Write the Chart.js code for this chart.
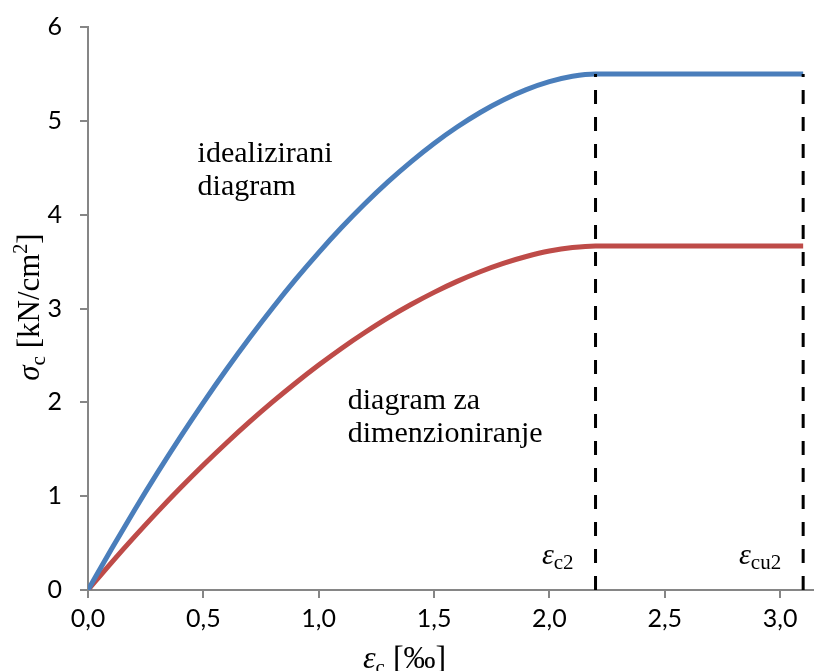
<!DOCTYPE html>
<html>
<head>
<meta charset="utf-8">
<script src="https://cdn.jsdelivr.net/npm/chart.js@4/dist/chart.umd.min.js"></script>
<style>
  html, body { margin: 0; padding: 0; background: #ffffff; }
  #wrap { width: 814px; height: 671px; position: relative; }
</style>
</head>
<body>
<div id="wrap"><canvas id="c" width="814" height="671"></canvas></div>
<script>
// Strain εc [‰]
const strain = [0.0, 0.1, 0.2, 0.3, 0.4, 0.5, 0.6, 0.7, 0.8, 0.9, 1.0, 1.1,
                1.2, 1.3, 1.4, 1.5, 1.6, 1.7, 1.8, 1.9, 2.0, 2.1, 2.2, 3.1];
// Stress σc [kN/cm²], idealized diagram
const sigmaIdealized = [0.000, 0.430, 0.845, 1.245, 1.629, 1.997, 2.350, 2.686,
                        3.006, 3.310, 3.596, 3.865, 4.116, 4.349, 4.563, 4.759,
                        4.934, 5.089, 5.222, 5.332, 5.417, 5.475, 5.500, 5.500];
// Stress σc [kN/cm²], design diagram
const sigmaDesign = [0.000, 0.287, 0.563, 0.830, 1.086, 1.332, 1.567, 1.791,
                     2.004, 2.206, 2.397, 2.577, 2.744, 2.900, 3.042, 3.172,
                     3.289, 3.392, 3.481, 3.554, 3.612, 3.650, 3.667, 3.667];
// Strain limits εc2 and εcu2 [‰]
const strainLimits = [2.2, 3.1];
const limitNames = ["c2", "cu2"];
// Axis ticks
const xTicks = [0.0, 0.5, 1.0, 1.5, 2.0, 2.5, 3.0];
const yTicks = [0, 1, 2, 3, 4, 5, 6];

const toPoints = (xs, ys) => xs.map((x, i) => ({ x: x, y: ys[i] }));
const peak = sigmaIdealized[sigmaIdealized.length - 1];

const limitSets = strainLimits.map(v => ({
  data: [{ x: v, y: 0 }, { x: v, y: peak }],
  borderColor: '#000000',
  borderWidth: 3,
  borderDash: [14, 13],
  pointRadius: 0,
  showLine: true,
  order: 0
}));

const serif = '"Liberation Serif", "DejaVu Serif", serif';

// Text pieces with sub/superscripts drawn along the baseline
function drawRich(ctx, parts, x, y) {
  let cx = x;
  parts.forEach(p => {
    ctx.font = p.font;
    ctx.fillText(p.t, cx, y + (p.shift || 0));
    cx += ctx.measureText(p.t).width;
  });
  return cx - x;
}
function richWidth(ctx, parts) {
  let w = 0;
  parts.forEach(p => { ctx.font = p.font; w += ctx.measureText(p.t).width; });
  return w;
}

const labelsPlugin = {
  id: 'labels',
  afterDraw(chart) {
    const ctx = chart.ctx;
    const xs = chart.scales.x, ys = chart.scales.y;
    ctx.save();
    ctx.fillStyle = '#000000';
    ctx.textBaseline = 'alphabetic';
    ctx.textAlign = 'left';

    // curve captions
    ctx.font = '30px ' + serif;
    let px = xs.getPixelForValue(0.475), py = ys.getPixelForValue(4.56);
    ctx.fillText('idealizirani', px, py);
    ctx.fillText('diagram', px, py + 33);
    px = xs.getPixelForValue(1.126); py = ys.getPixelForValue(1.925);
    ctx.fillText('diagram za', px, py);
    ctx.fillText('dimenzioniranje', px, py + 33);

    // strain limit labels
    const base = ys.getPixelForValue(0.276);
    strainLimits.forEach((v, i) => {
      const parts = [
        { t: 'ε', font: 'italic 30px ' + serif },
        { t: limitNames[i], font: '21px ' + serif, shift: 5 }
      ];
      const w = richWidth(ctx, parts);
      drawRich(ctx, parts, xs.getPixelForValue(v) - 22 - w, base);
    });

    // x axis title
    const xt = [
      { t: 'ε', font: 'italic 32px ' + serif },
      { t: 'c', font: '21px ' + serif, shift: 6 },
      { t: ' [‰]', font: '32px ' + serif }
    ];
    drawRich(ctx, xt, 363, 668);

    // y axis title
    const yt = [
      { t: 'σ', font: 'italic 31px ' + serif },
      { t: 'c', font: '21px ' + serif, shift: 6 },
      { t: ' [kN/cm', font: '31px ' + serif },
      { t: '2', font: '20px ' + serif, shift: -12 },
      { t: ']', font: '31px ' + serif }
    ];
    const yw = richWidth(ctx, yt);
    ctx.translate(39, 307);
    ctx.rotate(-Math.PI / 2);
    drawRich(ctx, yt, -yw / 2, 0);
    ctx.restore();
  }
};

new Chart(document.getElementById('c'), {
  type: 'scatter',
  data: {
    datasets: [
      {
        data: toPoints(strain, sigmaIdealized),
        borderColor: '#4a7ebb',
        borderWidth: 5,
        pointRadius: 0,
        showLine: true,
        cubicInterpolationMode: 'monotone',
        order: 1
      },
      {
        data: toPoints(strain, sigmaDesign),
        borderColor: '#be4b48',
        borderWidth: 5,
        pointRadius: 0,
        showLine: true,
        cubicInterpolationMode: 'monotone',
        order: 1
      },
      ...limitSets
    ]
  },
  options: {
    responsive: false,
    animation: false,
    events: [],
    layout: { padding: { top: 27, left: 0, right: 0, bottom: 0 } },
    plugins: { legend: { display: false }, tooltip: { enabled: false } },
    scales: {
      x: {
        type: 'linear',
        min: 0,
        max: 3.147,
        afterBuildTicks: s => { s.ticks = xTicks.map(v => ({ value: v })); },
        afterFit: s => { s.height = 81; s.paddingLeft = 0; s.paddingRight = 0; },
        ticks: {
          autoSkip: false,
          maxRotation: 0,
          padding: 6,
          color: '#000000',
          font: { family: 'Lato', size: 25 },
          callback: v => Number(v).toFixed(1).replace('.', ',')
        },
        grid: { drawOnChartArea: false, drawTicks: true, tickLength: 8, color: '#868686', lineWidth: 2 },
        border: { color: '#868686', width: 2 }
      },
      y: {
        type: 'linear',
        min: 0,
        max: 6,
        afterBuildTicks: s => { s.ticks = yTicks.map(v => ({ value: v })); },
        afterFit: s => { s.width = 88; s.paddingTop = 0; s.paddingBottom = 0; },
        ticks: {
          padding: 18,
          color: '#000000',
          font: { family: 'Lato', size: 25 }
        },
        grid: { drawOnChartArea: false, drawTicks: true, tickLength: 8, color: '#868686', lineWidth: 2 },
        border: { color: '#868686', width: 2 }
      }
    }
  },
  plugins: [labelsPlugin]
});
</script>
</body>
</html>
